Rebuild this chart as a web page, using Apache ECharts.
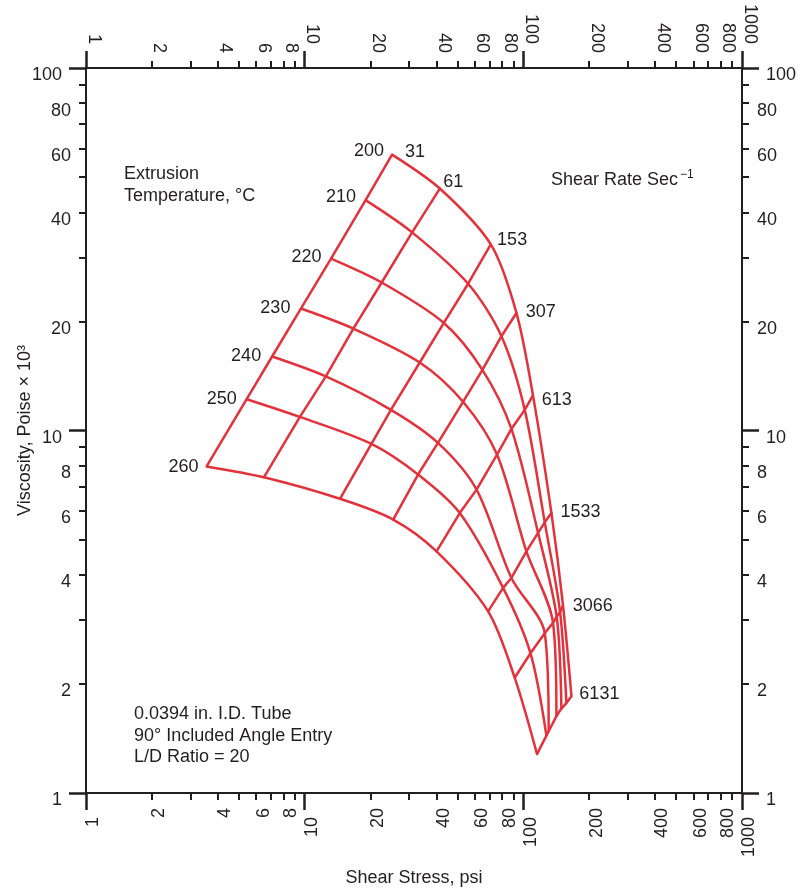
<!DOCTYPE html>
<html>
<head>
<meta charset="utf-8">
<script src="https://cdn.jsdelivr.net/npm/echarts@6/dist/echarts.min.js"></script>
<style>
html,body{margin:0;padding:0;background:#ffffff;}
#chart{width:803px;height:894px;}
</style>
</head>
<body>
<div id="chart"></div>
<script>
// ---------- data ----------
const shearRates = [31, 61, 153, 307, 613, 1533, 3066, 6131];      // sec^-1
const temperatures = [200, 210, 220, 230, 240, 250, 260];            // °C

// shear stress (psi) at each shear rate, one array per temperature
const stress200 = [25.1, 41.5, 71.0, 93.0, 110.7, 134.4, 151.9, 166.0];
const stress210 = [19.0, 31.0, 55.9, 79.4, 101.5, 125.3, 147.2, 157.4];
const stress220 = [13.2, 22.5, 43.3, 65.0, 88.2, 116.8, 142.1, 149.3];
const stress230 = [9.61, 16.7, 33.6, 53.0, 75.8, 103.3, 136.7, 141.7];
const stress240 = [7.10, 12.5, 24.8, 40.7, 61.1, 88.2, 125.3, 130.6];
const stress250 = [5.43, 9.51, 20.2, 33.0, 51.2, 80.8, 107.8, 127.5];
const stress260 = [3.56, 6.51, 14.5, 25.4, 40.1, 69.0, 91.3, 115.5];

// viscosity (poise x 10^3) at each shear rate, one array per temperature
const visc200 = [57.7, 46.5, 32.6, 21.1, 12.5, 5.92, 3.29, 1.85];
const visc210 = [43.2, 35.2, 25.4, 18.2, 11.4, 5.58, 3.16, 1.77];
const visc220 = [29.8, 25.6, 19.8, 14.7, 10.1, 5.22, 3.06, 1.71];
const visc230 = [21.7, 19.1, 15.4, 12.0, 8.58, 4.64, 2.95, 1.63];
const visc240 = [16.0, 14.1, 11.4, 9.24, 6.87, 3.92, 2.76, 1.48];
const visc250 = [12.2, 10.9, 9.18, 7.56, 5.92, 3.68, 2.43, 1.44];
const visc260 = [7.96, 7.43, 6.48, 5.68, 4.64, 3.17, 2.08, 1.28];

// axis ticks and tick labels
const xMajorTicks = [1, 10, 100, 1000];
const xMinorTicks = [2, 3, 4, 5, 6, 7, 8, 9, 20, 30, 40, 50, 60, 70, 80, 90, 200, 300, 400, 500, 600, 700, 800, 900];
const xMinorLabels = [2, 4, 6, 8, 20, 40, 60, 80, 200, 400, 600, 800];
const yMajorTicks = [1, 10, 100];
const yMinorTicks = [2, 3, 4, 5, 6, 7, 8, 9, 20, 30, 40, 50, 60, 70, 80, 90];
const yMinorLabels = [2, 4, 6, 8, 20, 40, 60, 80];

// ---------- styling ----------
const ink = '#231f20';
const red = '#e3323b';
const fontFamily = '"Liberation Sans", Arial, Helvetica, sans-serif';
const tempLabelOffsets = [[1, -3.5], [-0.5, -3.5], [-0.5, -1.5], [-1.5, -0.5], [-2, -0.5], [-1, 0], [1, 0.5]];
const rateLabelOffsets = [[4, -3], [-5.5, -7], [-2.7, -4.3], [0.3, -0.6], [-0.3, 4.3], [0, -1.5], [0.7, 0.8], [-1.1, -1.7]];

const tempStress = [stress200, stress210, stress220, stress230, stress240, stress250, stress260];
const tempVisc = [visc200, visc210, visc220, visc230, visc240, visc250, visc260];

const lg = v => Math.log10(v);
const fmt = v => String(Math.round(Math.pow(10, v)));

function tickAxis(position, major, isX) {
  const ticks = isX ? (major ? xMajorTicks : xMinorTicks) : (major ? yMajorTicks : yMinorTicks);
  const labels = isX ? (major ? xMajorTicks : xMinorLabels) : (major ? yMajorTicks : yMinorLabels);
  return {
    type: 'value',
    position: position,
    min: 0,
    max: isX ? 3 : 2,
    silent: true,
    axisLine: { show: true, onZero: false, lineStyle: { color: ink, width: 2 } },
    axisTick: { show: true, customValues: ticks.map(lg), length: major ? 17 : 7, lineStyle: { color: ink, width: major ? 2.5 : 2 } },
    axisLabel: {
      show: true,
      customValues: labels.map(lg),
      formatter: fmt,
      margin: major ? 24 : 15,
      rotate: isX ? 90 : 0,
      verticalAlign: position === 'top' ? 'bottom' : 'top',
      lineHeight: 15,
      color: ink,
      fontSize: 18,
      fontFamily: fontFamily,
      showMinLabel: true,
      showMaxLabel: true
    },
    splitLine: { show: false },
    splitArea: { show: false },
    minorTick: { show: false },
    minorSplitLine: { show: false }
  };
}

const xAxes = [
  { type: 'log', logBase: 10, min: 1, max: 1000, show: false },
  tickAxis('bottom', true, true),
  tickAxis('bottom', false, true),
  tickAxis('top', true, true),
  tickAxis('top', false, true)
];
Object.assign(xAxes[1], {
  name: 'Shear Stress, psi', nameLocation: 'middle', nameGap: 76,
  nameTextStyle: { color: ink, fontSize: 18, fontFamily: fontFamily }
});
const yAxes = [
  { type: 'log', logBase: 10, min: 1, max: 100, show: false },
  tickAxis('left', true, false),
  tickAxis('left', false, false),
  tickAxis('right', true, false),
  tickAxis('right', false, false)
];
Object.assign(yAxes[1], {
  name: 'Viscosity, Poise \u00d7 10\u00b3', nameLocation: 'middle', nameGap: 52, nameMoveOverlap: false,
  nameTextStyle: { color: ink, fontSize: 18, fontFamily: fontFamily }
});

const labelBase = { show: true, color: ink, fontSize: 18, fontFamily: fontFamily, distance: 8 };

const series = [];
// constant-temperature curves
temperatures.forEach((t, j) => {
  series.push({
    type: 'line', name: String(t), xAxisIndex: 0, yAxisIndex: 0,
    smooth: 0.3, symbol: 'circle', symbolSize: 2, showSymbol: true, showAllSymbol: true,
    lineStyle: { color: red, width: 2.5 }, itemStyle: { color: red },
    label: { show: false }, silent: true, emphasis: { disabled: true },
    data: shearRates.map((r, i) => {
      const item = { value: [tempStress[j][i], tempVisc[j][i]] };
      if (i === 0) {
        item.label = Object.assign({}, labelBase, { position: 'left', offset: tempLabelOffsets[j], formatter: String(t) });
      }
      return item;
    })
  });
});
// constant-shear-rate lines
shearRates.forEach((r, i) => {
  series.push({
    type: 'line', name: String(r), xAxisIndex: 0, yAxisIndex: 0,
    smooth: false, symbol: 'circle', symbolSize: 2, showSymbol: true, showAllSymbol: true,
    lineStyle: { color: red, width: 2.5 }, itemStyle: { color: red },
    label: { show: false }, silent: true, emphasis: { disabled: true },
    data: temperatures.map((t, j) => {
      const item = { value: [tempStress[j][i], tempVisc[j][i]] };
      if (j === 0) {
        item.label = Object.assign({}, labelBase, { position: 'right', offset: rateLabelOffsets[i], formatter: String(r) });
      }
      return item;
    })
  });
});

const chart = echarts.init(document.getElementById('chart'), null, { renderer: 'canvas' });
chart.setOption({
  backgroundColor: '#ffffff',
  animation: false,
  textStyle: { fontFamily: fontFamily },
  grid: { left: 86, top: 68, width: 656, height: 725, containLabel: false, outerBoundsMode: 'none' },
  xAxis: xAxes,
  yAxis: yAxes,
  graphic: [
    { type: 'text', left: 124, top: 163, silent: true,
      style: { text: 'Extrusion\nTemperature, \u00b0C', fill: ink, fontSize: 18, fontFamily: fontFamily, lineHeight: 22 } },
    { type: 'text', left: 551, top: 169, silent: true,
      style: { text: '{a|Shear Rate Sec}{b|\u22121}',
        rich: {
          a: { fill: ink, fontSize: 18, fontFamily: fontFamily, lineHeight: 22 },
          b: { fill: ink, fontSize: 12, fontFamily: fontFamily, verticalAlign: 'top', padding: [0, 0, 0, 2] }
        } } },
    { type: 'text', left: 134, top: 703, silent: true,
      style: { text: '0.0394 in. I.D. Tube\n90\u00b0 Included Angle Entry\nL/D Ratio = 20', fill: ink, fontSize: 18, fontFamily: fontFamily, lineHeight: 21.7 } }
  ],
  series: series
});
</script>
</body>
</html>
